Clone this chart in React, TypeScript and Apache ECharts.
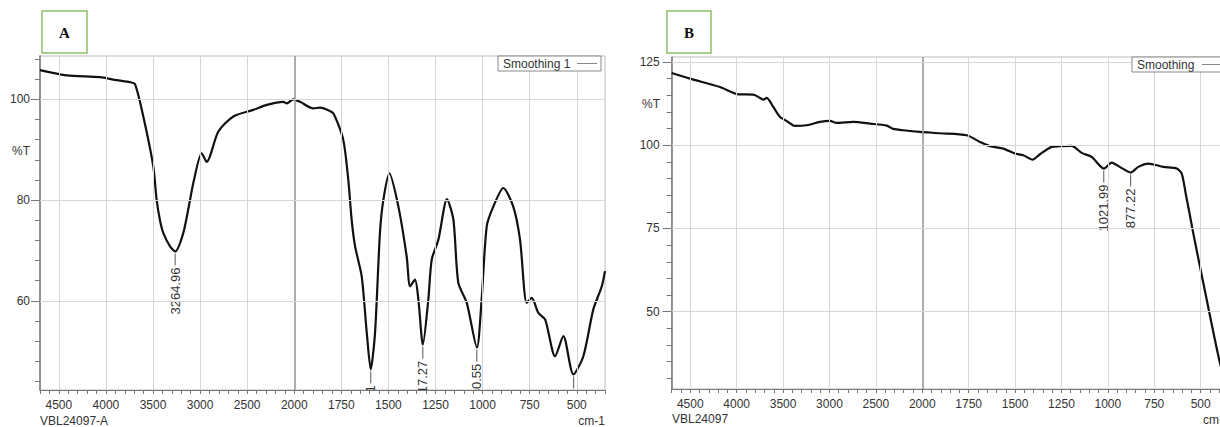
import React, { useEffect, useRef } from "react";
import * as echarts from "echarts";

// ---------- Data (wavenumber cm-1, %T) ----------
const wnA = [4700, 4416, 4063, 3886, 3744, 3691, 3603, 3497, 3461, 3426, 3391, 3319, 3265, 3178, 3107, 3072, 2983, 2930, 2806, 2647, 2435, 2292, 2116, 2080, 2010, 1969, 1899, 1863, 1828, 1792, 1740, 1713, 1695, 1677, 1642, 1615, 1594, 1571, 1545, 1527, 1495, 1447, 1403, 1385, 1359, 1341, 1317, 1288, 1270, 1235, 1189, 1155, 1129, 1084, 1030, 1005, 978, 943, 890, 837, 801, 766, 739, 704, 668, 615, 571, 518, 465, 412, 367, 350];
const tA = [105.8, 104.75, 104.4, 103.8, 103.4, 103.0, 96.6, 86.7, 80.0, 76.0, 73.5, 70.8, 69.8, 73.5, 80.0, 83.4, 89.3, 87.6, 93.6, 96.6, 97.9, 98.9, 99.5, 99.2, 100.0, 99.5, 98.2, 98.35, 98.0, 97.2, 92.0, 84.0, 76.0, 70.8, 64.9, 53.7, 46.4, 53.7, 73.5, 80.0, 85.3, 78.7, 68.8, 62.9, 64.2, 60.3, 51.3, 60.3, 68.2, 72.1, 80.2, 76.1, 63.6, 59.6, 50.7, 60.3, 74.8, 78.7, 82.4, 78.7, 72.1, 59.6, 60.6, 57.6, 56.3, 49.0, 53.0, 45.4, 49.0, 58.3, 62.9, 65.9];
const peakLabelsA = ["3264.96", "1593.61", "1317.27", "1030.55", "516.43"];
const peakWnA = [3264.96, 1593.61, 1317.27, 1030.55, 516.43];
const peakTA = [69.8, 46.4, 51.3, 50.7, 45.4];

const wnB = [4700, 4503, 4180, 3982, 3820, 3748, 3713, 3676, 3605, 3533, 3461, 3372, 3246, 3102, 2994, 2922, 2743, 2563, 2383, 2312, 2204, 2024, 1904, 1760, 1689, 1635, 1563, 1500, 1456, 1405, 1366, 1303, 1258, 1195, 1141, 1087, 1022, 979, 936, 877, 836, 782, 701, 629, 602, 579, 558, 540, 467, 396, 350];
const tB = [121.7, 120.0, 117.5, 115.3, 115.2, 114.2, 113.7, 114.2, 111.5, 108.5, 107.3, 105.8, 106.0, 107.0, 107.3, 106.7, 107.0, 106.5, 105.9, 104.9, 104.5, 104.0, 103.6, 103.0, 101.0, 99.7, 99.0, 97.5, 97.0, 95.7, 97.3, 99.5, 99.7, 99.8, 97.7, 96.5, 93.0, 94.8, 93.5, 91.8, 93.5, 94.5, 93.5, 93.0, 91.5, 85.0, 79.0, 73.6, 53.5, 34.6, 26.0];
const peakLabelsB = ["1021.99", "877.22"];
const peakWnB = [1021.99, 877.22];
const peakTB = [93.0, 91.8];

// ---------- Axis ticks / labels ----------
const xLabelWn = [4500, 4000, 3500, 3000, 2500, 2000, 1750, 1500, 1250, 1000, 750, 500];
const yMajorA = [60, 80, 100];
const yMinorA = [44, 48, 52, 56, 64, 68, 72, 76, 84, 88, 92, 96, 104, 108];
const yMajorB = [50, 75, 100, 125];
const yMinorB = [30, 35, 40, 45, 55, 60, 65, 70, 80, 85, 90, 95, 105, 110, 115, 120];

// Instrument scale: 2x compression above 2000 cm-1
const toT = (wn: number) => (wn > 2000 ? 2000 + (wn - 2000) / 2 : wn);
const fromT = (t: number) => (t > 2000 ? Math.round(2000 + 2 * (t - 2000)) : Math.round(t));

const FONT = '"Liberation Sans", Arial, sans-serif';
const xTicksT: number[] = [];
for (let t = 350; t <= 3350; t += 50) xTicksT.push(t);

function makePanel(idx: number, wn: number[], tr: number[], pWn: number[], pT: number[], pLab: string[], yMin: number, yMax: number, yMaj: number[], yMin2: number[], labelMargin: number) {
  const xAxis = {
    type: "value", gridIndex: idx, min: 350, max: 3350, inverse: true,
    axisLine: { show: true, lineStyle: { color: "#777", width: 1 } },
    axisTick: { show: true, customValues: xTicksT, length: 4, lineStyle: { color: "#777" } },
    axisLabel: { show: true, customValues: xLabelWn.map(toT), formatter: (v: number) => String(fromT(v)), color: "#333", fontSize: 12, fontFamily: FONT, margin: 9 },
    splitLine: { show: false },
  };
  const yAxes = [
    {
      type: "value", gridIndex: idx, min: yMin, max: yMax, position: "left",
      axisLine: { show: true, lineStyle: { color: "#777", width: 1.5 } },
      axisTick: { show: true, customValues: yMin2, length: 5, lineStyle: { color: "#777" } },
      axisLabel: { show: false },
      splitLine: { show: false },
    },
    {
      type: "value", gridIndex: idx, min: yMin, max: yMax, position: "left",
      axisLine: { show: false },
      axisTick: { show: true, customValues: yMaj, length: 9, lineStyle: { color: "#777" } },
      axisLabel: { show: true, customValues: yMaj, color: "#333", fontSize: 12, fontFamily: FONT, margin: labelMargin },
      splitLine: { show: false },
    },
  ];
  const gridLines = [
    ...xLabelWn.map((w) => ({ xAxis: toT(w), lineStyle: w === 2000 ? { color: "#999", width: 1.6, type: "solid" } : { color: "#d6d6d6", width: 1, type: "solid" } })),
    ...yMaj.map((v) => ({ yAxis: v, lineStyle: { color: "#d6d6d6", width: 1, type: "solid" } })),
  ];
  const yIndexBase = idx * 2;
  const series = [
    {
      type: "line", xAxisIndex: idx, yAxisIndex: yIndexBase, data: [], z: 1, silent: true,
      markLine: { silent: true, symbol: "none", label: { show: false }, animation: false, data: gridLines },
    },
    {
      type: "line", xAxisIndex: idx, yAxisIndex: yIndexBase, z: 3,
      data: wn.map((w, i) => [toT(w), tr[i]]),
      showSymbol: false, smooth: 0.25, clip: true,
      lineStyle: { color: "#111", width: 2.2 },
    },
    {
      type: "custom", xAxisIndex: idx, yAxisIndex: yIndexBase, z: 4, clip: true,
      data: pWn.map((w, i) => [toT(w), pT[i]]),
      renderItem: (params: any, api: any) => {
        const p = api.coord([api.value(0), api.value(1)]);
        const lab = pLab[params.dataIndex];
        return {
          type: "group",
          children: [
            { type: "line", shape: { x1: p[0], y1: p[1] + 2, x2: p[0], y2: p[1] + 14 }, style: { stroke: "#555", lineWidth: 1 } },
            { type: "text", x: p[0], y: p[1] + 16, rotation: Math.PI / 2, style: { text: lab, align: "right", verticalAlign: "middle", fill: "#333", fontSize: 13, fontFamily: FONT } },
          ],
        };
      },
    },
  ];
  return { xAxis, yAxes, series };
}

export default function App() {
  const ref = useRef<HTMLDivElement>(null);
  useEffect(() => {
    if (!ref.current) return;
    const chart = echarts.init(ref.current, undefined, { renderer: "svg" });
    const A = makePanel(0, wnA, tA, peakWnA, peakTA, peakLabelsA, 42.3, 108.6, yMajorA, yMinorA, 10);
    const B = makePanel(1, wnB, tB, peakWnB, peakTB, peakLabelsB, 26.8, 126.5, yMajorB, yMinorB, 12);
    const txt = (x: number, y: number, s: string, extra: any = {}) => ({
      type: "text", x, y, silent: true,
      style: { text: s, fill: "#333", fontSize: 12, fontFamily: FONT, align: "left", verticalAlign: "middle", ...extra },
    });
    chart.setOption({
      animation: false,
      backgroundColor: "#fff",
      textStyle: { fontFamily: FONT },
      grid: [
        { left: 40, top: 56, width: 565, height: 334, show: true, borderColor: "#bbb", borderWidth: 1, backgroundColor: "transparent" },
        { left: 671.7, top: 57, width: 556.8, height: 332, show: true, borderColor: "#bbb", borderWidth: 1, backgroundColor: "transparent" },
      ],
      xAxis: [A.xAxis, B.xAxis],
      yAxis: [...A.yAxes, ...B.yAxes],
      series: [...A.series, ...B.series],
      graphic: [
        // panel label boxes
        { type: "rect", shape: { x: 42, y: 11, width: 45, height: 42 }, style: { fill: "#fff", stroke: "#8fbf6a", lineWidth: 1.5 }, silent: true },
        txt(64.5, 33, "A", { align: "center", fontFamily: '"Liberation Serif", "Times New Roman", serif', fontWeight: "bold", fontSize: 15, fill: "#111" }),
        { type: "rect", shape: { x: 667, y: 11, width: 44, height: 42 }, style: { fill: "#fff", stroke: "#8fbf6a", lineWidth: 1.5 }, silent: true },
        txt(689, 33, "B", { align: "center", fontFamily: '"Liberation Serif", "Times New Roman", serif', fontWeight: "bold", fontSize: 15, fill: "#111" }),
        // legends
        { type: "rect", shape: { x: 498, y: 56, width: 103, height: 15 }, style: { fill: "#fff", stroke: "#888", lineWidth: 1 }, silent: true, z: 100 },
        { ...txt(503, 64, "Smoothing 1"), z: 101 },
        { type: "line", shape: { x1: 577, y1: 63.5, x2: 597, y2: 63.5 }, style: { stroke: "#888", lineWidth: 1 }, silent: true, z: 101 },
        { type: "rect", shape: { x: 1132, y: 57, width: 110, height: 15 }, style: { fill: "#fff", stroke: "#888", lineWidth: 1 }, silent: true, z: 100 },
        { ...txt(1137, 65, "Smoothing"), z: 101 },
        { type: "line", shape: { x1: 1202, y1: 64.5, x2: 1222, y2: 64.5 }, style: { stroke: "#888", lineWidth: 1 }, silent: true, z: 101 },
        // axis names
        txt(21, 151, "%T", { align: "center" }),
        txt(651, 104, "%T", { align: "center" }),
        txt(40, 421, "VBL24097-A"),
        txt(605, 421, "cm-1", { align: "right" }),
        txt(672, 419, "VBL24097"),
        txt(1203, 420, "cm-1"),
      ],
    });
    return () => chart.dispose();
  }, []);
  return <div ref={ref} style={{ position: "fixed", left: 0, top: 0, width: 1240, height: 427, background: "#fff" }} />;
}
